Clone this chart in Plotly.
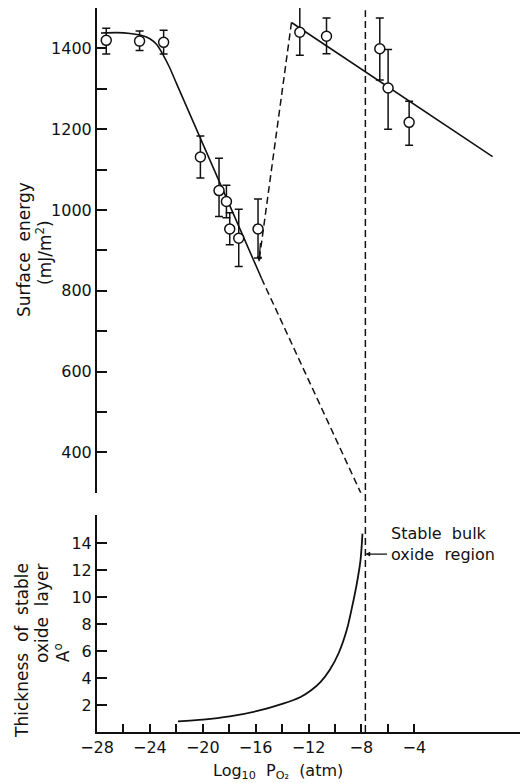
import plotly.graph_objects as go

# ---- data ----
pt_x = [-27.3, -24.78, -22.96, -20.18, -18.77, -18.21, -17.96, -17.28, -15.82,
        -12.66, -10.64, -6.61, -5.98, -4.39]
pt_y = [1420, 1418, 1415, 1131, 1048, 1021, 953, 930, 953,
        1440, 1430, 1399, 1302, 1217]
err_plus = [30, 25, 30, 52, 80, 40, 40, 72, 74, 62, 45, 76, 95, 52]
err_minus = [34, 23, 29, 52, 64, 40, 39, 70, 72, 57, 43, 77, 102, 57]

low_fit_x = [-27.7, -26.5, -25.5, -24.6, -24.0, -23.5, -23.0, -22.5, -22.0, -15.56]
low_fit_y = [1438, 1439, 1437, 1432, 1424, 1410, 1384, 1352, 1314, 831]

low_ext_x = [-15.56, -7.8]
low_ext_y = [831, 282]

jump_x = [-13.29, -15.75]
jump_y = [1464, 872]

high_fit_x = [-13.29, 1.92]
high_fit_y = [1464, 1132]

thick_x = [-21.88, -19.98, -17.96, -15.94, -13.93, -12.6, -11.8, -11.1, -10.4,
           -9.7, -9.1, -8.7, -8.37, -8.07, -7.92]
thick_y = [0.79, 0.92, 1.16, 1.54, 2.1, 2.6, 3.1, 3.7, 4.6,
           5.9, 7.6, 9.3, 10.9, 12.74, 14.72]

bulk_oxide_x = -7.7

x_tick_vals = list(range(-28, -3, 2))
x_tick_text = [("\u2212" + str(-v)) if v % 4 == 0 else "" for v in x_tick_vals]
e_tick_vals = list(range(300, 1501, 100))
e_tick_text = [str(v) if v % 200 == 0 and 400 <= v <= 1400 else "" for v in e_tick_vals]
t_tick_vals = [2, 4, 6, 8, 10, 12, 14]
t_tick_text = [str(v) for v in t_tick_vals]

FONT = "DejaVu Sans"
BLACK = "#111111"
DASH = "7px,4px"

fig = go.Figure()

fig.add_trace(go.Scatter(x=low_fit_x, y=low_fit_y, mode="lines",
                         line=dict(color=BLACK, width=1.6, shape="spline", smoothing=0.6),
                         xaxis="x", yaxis="y", hoverinfo="skip"))
fig.add_trace(go.Scatter(x=low_ext_x, y=low_ext_y, mode="lines",
                         line=dict(color=BLACK, width=1.5, dash=DASH),
                         xaxis="x", yaxis="y", hoverinfo="skip"))
fig.add_trace(go.Scatter(x=jump_x, y=jump_y, mode="lines",
                         line=dict(color=BLACK, width=1.5, dash=DASH),
                         xaxis="x", yaxis="y", hoverinfo="skip"))
fig.add_trace(go.Scatter(x=high_fit_x, y=high_fit_y, mode="lines",
                         line=dict(color=BLACK, width=1.6),
                         xaxis="x", yaxis="y", hoverinfo="skip"))
fig.add_trace(go.Scatter(x=pt_x, y=pt_y, mode="markers",
                         marker=dict(symbol="circle", size=10, color="white",
                                     line=dict(color=BLACK, width=1.5)),
                         error_y=dict(type="data", symmetric=False, array=err_plus,
                                      arrayminus=err_minus, color=BLACK,
                                      thickness=1.5, width=4),
                         xaxis="x", yaxis="y"))
fig.add_trace(go.Scatter(x=thick_x, y=thick_y, mode="lines",
                         line=dict(color=BLACK, width=1.8, shape="spline", smoothing=0.8),
                         xaxis="x", yaxis="y2", hoverinfo="skip"))

axis_common = dict(showgrid=False, zeroline=False, showline=True,
                   linecolor=BLACK, linewidth=2, ticks="inside",
                   tickcolor=BLACK, tickwidth=1.5,
                   tickfont=dict(family=FONT, size=16, color=BLACK))

# the page body adds an 8px offset, so the figure is 8px smaller and shifted
fig.update_layout(
    width=520, height=775,
    margin=dict(l=89, r=0, t=0, b=51),
    paper_bgcolor="white", plot_bgcolor="white",
    showlegend=False,
    font=dict(family=FONT, color=BLACK),
    xaxis=dict(range=[-28, 4.6], anchor="y2", tickmode="array",
               tickvals=x_tick_vals, ticktext=x_tick_text, ticklen=8,
               **axis_common),
    yaxis=dict(domain=[0.3305, 1.0], range=[300, 1500], anchor="x",
               tickmode="array", tickvals=e_tick_vals, ticktext=e_tick_text,
               ticklen=10, **axis_common),
    yaxis2=dict(domain=[0.0, 0.2997], range=[0, 16.1], anchor="x",
                tickmode="array", tickvals=t_tick_vals, ticktext=t_tick_text,
                ticklen=10, **axis_common),
)

# vertical dashed line (stable bulk oxide boundary) through both panels
fig.add_shape(type="line", xref="x", yref="paper", x0=bulk_oxide_x, x1=bulk_oxide_x,
              y0=0, y1=0.997, line=dict(color=BLACK, width=1.5, dash=DASH))

# small arrow at the end of the dashed jump line
fig.add_annotation(x=jump_x[1], y=jump_y[1], xref="x", yref="y",
                   ax=jump_x[1] + 0.12, ay=jump_y[1] + 50, axref="x", ayref="y",
                   text="", showarrow=True, arrowhead=2, arrowsize=0.8,
                   arrowwidth=1.3, arrowcolor=BLACK)

ann_font = dict(family=FONT, size=17, color=BLACK)


def vlabel(x, y, text):
    fig.add_annotation(xref="paper", yref="paper", x=x, y=y, text=text,
                       textangle=-90, showarrow=False, xanchor="center",
                       yanchor="middle", font=ann_font)


vlabel(-0.169, 0.666, "Surface  energy")
vlabel(-0.123, 0.663, "(mJ/m<sup>2</sup>)")
vlabel(-0.174, 0.112, "Thickness  of  stable")
vlabel(-0.126, 0.164, "oxide  layer")
vlabel(-0.081, 0.109, "A<sup>o</sup>")

fig.add_annotation(xref="x", yref="paper", x=-14.3, y=-0.054,
                   xanchor="center", yanchor="middle",
                   text="Log<sub>10</sub>  P<sub>O\u2082</sub>  (atm)",
                   showarrow=False, font=dict(family=FONT, size=16, color=BLACK))
fig.add_annotation(xref="x", yref="y2", x=-5.9, y=13.96, xanchor="left",
                   yanchor="middle",
                   text="Stable  bulk<br>oxide  region", align="left",
                   showarrow=False, font=dict(family=FONT, size=16, color=BLACK))
fig.add_annotation(xref="x", yref="y2", x=bulk_oxide_x, y=13.2,
                   ax=-5.95, ay=13.2, axref="x", ayref="y2",
                   text="", showarrow=True, arrowhead=2, arrowsize=0.8,
                   arrowwidth=1.2, arrowcolor=BLACK)

fig.write_html("out.html")
